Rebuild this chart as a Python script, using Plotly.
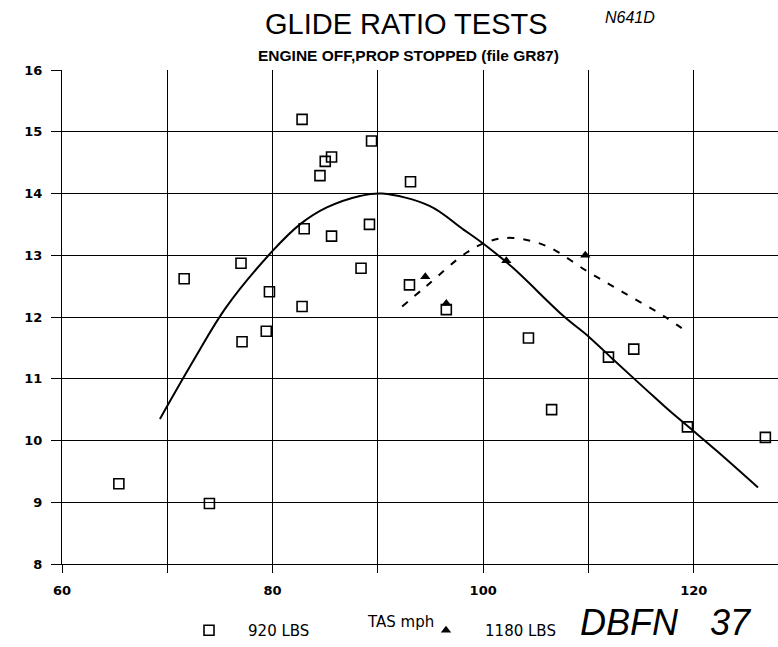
import plotly.graph_objects as go

# 920 LBS test points (TAS mph, glide ratio)
tas_920 = [65.4, 71.6, 74.0, 77.0, 77.1, 79.4, 79.7, 82.8, 83.0, 82.8, 84.5, 85.0,
           85.6, 85.6, 88.4, 89.2, 89.4, 93.0, 93.1, 96.5, 104.3, 106.5, 111.9,
           114.3, 119.4, 126.8]
gr_920 = [9.30, 12.62, 8.98, 12.87, 11.60, 11.77, 12.41, 15.20, 13.43, 12.17, 14.29,
          14.52, 14.59, 13.31, 12.79, 13.50, 14.85, 12.52, 14.19, 12.12, 11.66, 10.50,
          11.35, 11.48, 10.22, 10.05]

# 1180 LBS test points
tas_1180 = [94.5, 96.5, 102.2, 109.7]
gr_1180 = [12.65, 12.22, 12.91, 13.00]

# Fitted curve, 920 LBS
fit_920_x = [69.3, 72.5, 75.6, 80.0, 82.6, 85.1, 88.3, 90.4, 94.9, 98.1,
             100.3, 102.8, 107.6, 110.1, 112.3, 115.5, 117.7, 120.0, 122.2, 126.1]
fit_920_y = [10.35, 11.3, 12.16, 13.07, 13.5, 13.77, 13.96, 14.0, 13.8, 13.42,
             13.15, 12.8, 12.02, 11.67, 11.32, 10.82, 10.48, 10.15, 9.83, 9.24]

# Fitted curve, 1180 LBS
fit_1180_x = [92.3, 94.6, 98.4, 100.6, 102.8, 106.0, 109.8, 113.3, 117.1, 119.6]
fit_1180_y = [12.17, 12.5, 13.04, 13.23, 13.28, 13.15, 12.75, 12.4, 12.02, 11.73]

x_ticks = [60, 70, 80, 90, 100, 110, 120]
x_ticktext = ["60", "", "80", "", "100", "", "120"]
y_ticks = [8, 9, 10, 11, 12, 13, 14, 15, 16]

# plot area in pixels
L, T, B = 62, 70, 564
W, H = 778 - L, B - T

fig = go.Figure()

fig.add_trace(go.Scatter(x=fit_920_x, y=fit_920_y, mode="lines",
                         line=dict(color="black", width=2, shape="spline"),
                         showlegend=False, hoverinfo="skip"))
fig.add_trace(go.Scatter(x=fit_1180_x, y=fit_1180_y, mode="lines",
                         line=dict(color="black", width=2, shape="spline", dash="7px,9px"),
                         showlegend=False, hoverinfo="skip"))
fig.add_trace(go.Scatter(x=tas_920, y=gr_920, mode="markers",
                         name="\u00a0\u00a0\u00a0\u00a0920 LBS",
                         marker=dict(symbol="square-open", size=10, color="black",
                                     line=dict(color="black", width=1.6))))
fig.add_trace(go.Scatter(x=tas_1180, y=gr_1180, mode="markers",
                         name="\u00a0\u00a0\u00a0\u00a01180 LBS",
                         marker=dict(symbol="triangle-up", size=9, color="black")))

tick_font = dict(family="DejaVu Sans", size=13, color="black", weight="bold")

def px_x(px):
    return (px - L) / W

def px_y(py):
    return (B - py) / H

fig.update_layout(
    width=778, height=647,
    margin=dict(l=L, r=0, t=T, b=647 - B, autoexpand=False),
    paper_bgcolor="white", plot_bgcolor="white",
    xaxis=dict(range=[60, 128], tickvals=x_ticks, ticktext=x_ticktext,
               showgrid=True, gridcolor="black", gridwidth=1.3,
               ticks="outside", ticklen=8, tickcolor="black", tickwidth=1.3,
               ticklabelstandoff=6,
               showline=True, linecolor="black", linewidth=1.3,
               zeroline=False, tickfont=tick_font),
    yaxis=dict(range=[8, 16], tickvals=y_ticks,
               showgrid=True, gridcolor="black", gridwidth=1.3,
               ticks="outside", ticklen=10, tickcolor="black", tickwidth=1.3,
               ticklabelstandoff=6,
               showline=True, linecolor="black", linewidth=1.3,
               zeroline=False, tickfont=tick_font),
    legend=dict(orientation="h", x=px_x(189), xanchor="left",
                y=px_y(647), yanchor="bottom",
                entrywidth=192, entrywidthmode="pixels",
                font=dict(family="DejaVu Sans", size=15, color="black"),
                bgcolor="rgba(0,0,0,0)", borderwidth=0),
    showlegend=True,
)

def label(text, cx, cy, **font):
    fig.add_annotation(text=text, x=px_x(cx), y=px_y(cy), xref="paper", yref="paper",
                       xanchor="center", yanchor="middle", showarrow=False,
                       font=dict(color="black", **font))

label("GLIDE RATIO TESTS", 406, 24, family="Liberation Sans", size=29)
label("ENGINE OFF,PROP STOPPED (file GR87)", 408, 55, family="Liberation Sans", size=15.5, weight="bold")
label("N641D", 630, 18, family="Liberation Sans", size=16, style="italic")
label("TAS mph", 400, 622, family="DejaVu Sans", size=15)
label("DBFN", 629, 622, family="Liberation Sans", size=36, style="italic")
label("37", 731, 622, family="Liberation Sans", size=36, style="italic")

fig.write_html("out.html", config={"displayModeBar": False},
               post_script="document.body.style.margin='0';")
